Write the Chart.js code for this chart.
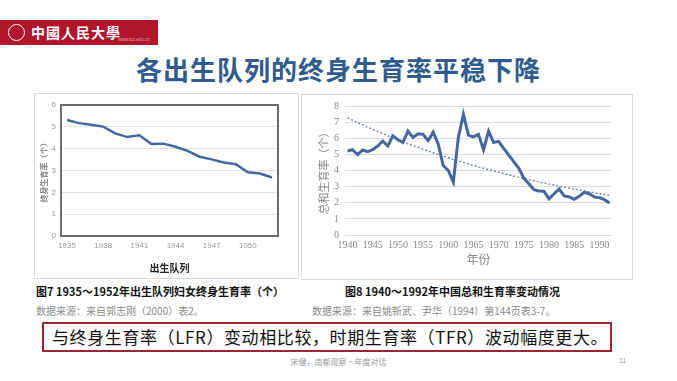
<!DOCTYPE html>
<html>
<head>
<meta charset="utf-8">
<script src="https://cdn.jsdelivr.net/npm/chart.js@4/dist/chart.umd.min.js"></script>
<style>
  body { margin: 0; width: 677px; height: 381px; background: #fff; position: relative; overflow: hidden;
         font-family: "Noto Sans CJK SC", sans-serif; }
  .abs { position: absolute; white-space: nowrap; }
  #bar { left: 0; top: 20px; width: 158px; height: 25px; background: #B0152B; }
  #emblem { left: 8px; top: 24px; width: 15px; height: 15px; border: 1.5px solid #fff; border-radius: 50%; }
  #logo { left: 31px; top: 22px; color: #fff; font: bold 14px "Noto Sans CJK TC"; letter-spacing: 1px; }
  #url { left: 118px; top: 37px; color: #e9a0aa; font: 4.5px "Liberation Sans"; }
  #title { left: 0; width: 677px; top: 50px; text-align: center; color: #2F5B8E; font: bold 26px "Noto Sans CJK SC"; letter-spacing: 1px; }
  .box { border: 1px solid #d9d9d9; background: #fff; }
  .cap { font: bold 11px "Noto Sans CJK SC"; color: #111; }
  .src { font: 10px "Noto Sans CJK SC"; color: #8a8a8a; }
  #note { left: 42px; top: 322px; width: 566px; height: 26px; border: 2px solid #9E2633; }
  #noteText { left: 52px; top: 324px; font: 17px "Noto Sans CJK SC"; color: #111; letter-spacing: 0.6px; }
  #footer { left: 0; width: 677px; top: 356px; text-align: center; font: 8px "Noto Sans CJK SC"; color: #9a9a9a; }
  #page { left: 619px; top: 357px; font: 7px "Liberation Sans"; color: #9a9a9a; }
</style>
</head>
<body>
<div class="abs" id="bar"></div>
<div class="abs" id="emblem"></div>
<div class="abs" id="logo">中國人民大學</div>
<div class="abs" id="url">www.ruc.edu.cn</div>
<div class="abs" id="title">各出生队列的终身生育率平稳下降</div>

<div class="abs box" style="left:34px;top:93px;width:263px;height:184px;"></div>
<div class="abs box" style="left:301px;top:94px;width:330px;height:184px;"></div>
<canvas id="lfrChart" class="abs" width="264" height="185" style="left:34px;top:93px;width:264px;height:185px;"></canvas>
<canvas id="tfrChart" class="abs" width="330" height="184" style="left:301px;top:94px;width:330px;height:184px;"></canvas>

<div class="abs cap" style="left:36px;top:283px;">图7 1935～1952年出生队列妇女终身生育率（个）</div>
<div class="abs cap" style="left:345px;top:283px;">图8 1940～1992年中国总和生育率变动情况</div>
<div class="abs src" style="left:36px;top:303px;">数据来源：来自郭志刚（2000）表2。</div>
<div class="abs src" style="left:312px;top:303px;">数据来源：来自姚新武、尹华（1994）第144页表3-7。</div>

<div class="abs" id="note"></div>
<div class="abs" id="noteText">与终身生育率（LFR）变动相比较，时期生育率（TFR）波动幅度更大。</div>
<div class="abs" id="footer">宋健，南都观察·年度对话</div>
<div class="abs" id="page">11</div>

<script>
// 图7：出生队列妇女终身生育率
const cohortYears = ['1935','1936','1937','1938','1939','1940','1941','1942','1943',
  '1944','1945','1946','1947','1948','1949','1950','1951','1952'];
const lfrValues = [5.31, 5.17, 5.10, 5.01, 4.70, 4.53, 4.61, 4.21, 4.23,
  4.09, 3.90, 3.63, 3.51, 3.37, 3.29, 2.92, 2.86, 2.68];
const lfrTicks = ['1935','1938','1941','1944','1947','1950'];

// 图8：总和生育率 1940-1992
const tfrYears = [];
for (let y = 1940; y <= 1992; y++) tfrYears.push(String(y));
const tfrValues = [5.21, 5.29, 4.98, 5.27, 5.17, 5.29, 5.52, 5.83, 5.52, 6.15,
  5.91, 5.74, 6.44, 6.05, 6.28, 6.24, 5.85, 6.38, 5.64, 4.31,
  4.00, 3.28, 6.05, 7.49, 6.19, 6.08, 6.24, 5.29, 6.44, 5.74,
  5.81, 5.37, 4.96, 4.55, 4.14, 3.53, 3.18, 2.81, 2.73, 2.71,
  2.24, 2.56, 2.85, 2.42, 2.36, 2.22, 2.40, 2.65, 2.56, 2.36,
  2.32, 2.19, 1.99];
const tfrTicks = ['1940','1945','1950','1955','1960','1965','1970','1975','1980','1985','1990'];

// 指数趋势线（最小二乘拟合 ln(y)）
const n = tfrValues.length;
let sx = 0, sy = 0, sxx = 0, sxy = 0;
tfrValues.forEach((v, i) => { const l = Math.log(v); sx += i; sy += l; sxx += i * i; sxy += i * l; });
const b = (n * sxy - sx * sy) / (n * sxx - sx * sx);
const a = (sy - b * sx) / n;
const tfrTrend = tfrValues.map((v, i) => Math.exp(a + b * i));

const blue = '#44679F';

const frame = {
  id: 'frame',
  afterDraw(chart) {
    const { ctx, chartArea: c } = chart;
    ctx.save();
    ctx.strokeStyle = '#6b6b6b';
    ctx.lineWidth = 2;
    ctx.strokeRect(c.left, c.top, c.right - c.left, c.bottom - c.top);
    ctx.restore();
  }
};

new Chart(document.getElementById('lfrChart'), {
  type: 'line',
  data: {
    labels: cohortYears,
    datasets: [{ data: lfrValues, borderColor: blue, borderWidth: 2.5, pointRadius: 0, tension: 0 }]
  },
  options: {
    responsive: false, animation: false,
    layout: { padding: { top: 12, right: 20 } },
    plugins: { legend: { display: false }, tooltip: { enabled: false } },
    scales: {
      x: {
        offset: true,
        grid: { display: false, drawTicks: false },
        border: { display: false },
        ticks: {
          autoSkip: false, maxRotation: 0, color: '#999', font: { size: 8, family: 'Liberation Sans' }, padding: 5,
          callback: function (v) { const l = this.getLabelForValue(v); return lfrTicks.includes(l) ? l : ''; }
        },
        title: { display: true, text: '出生队列', color: '#222', padding: { top: 10 },
          font: { size: 10, weight: 'bold', family: 'Noto Sans CJK SC' } },
        afterFit(s) { s.height = 42; }
      },
      y: {
        min: 0, max: 6,
        grid: { color: '#e2e2e2', drawTicks: false },
        border: { display: false },
        ticks: { stepSize: 1, color: '#999', font: { size: 8, family: 'Liberation Sans' }, padding: 5 },
        title: { display: true, text: '终身生育率（个）', color: '#888', padding: { top: 5 },
          font: { size: 8, weight: 'bold', family: 'Noto Sans CJK SC' } },
        afterFit(s) { s.width = 27; }
      }
    }
  },
  plugins: [frame]
});

new Chart(document.getElementById('tfrChart'), {
  type: 'line',
  data: {
    labels: tfrYears,
    datasets: [
      { data: tfrValues, borderColor: blue, borderWidth: 3, pointRadius: 0, tension: 0 },
      { data: tfrTrend, borderColor: '#6d84ad', borderWidth: 1.4, borderDash: [2, 2], pointRadius: 0 }
    ]
  },
  options: {
    responsive: false, animation: false,
    layout: { padding: { top: 11, right: 19, bottom: 7 } },
    plugins: { legend: { display: false }, tooltip: { enabled: false } },
    scales: {
      x: {
        offset: true,
        grid: { display: false, drawTicks: false },
        border: { display: false },
        ticks: {
          autoSkip: false, maxRotation: 0, color: '#888', font: { size: 10, family: 'Liberation Serif' }, padding: 4,
          callback: function (v) { const l = this.getLabelForValue(v); return tfrTicks.includes(l) ? l : ''; }
        },
        title: { display: true, text: '年份', color: '#888', padding: { top: 0 },
          font: { size: 12, family: 'Noto Sans CJK SC' } },
        afterFit(s) { s.height = 36; }
      },
      y: {
        min: 0, max: 8,
        grid: { color: '#dcdcdc', drawTicks: false },
        border: { display: false },
        ticks: { stepSize: 1, color: '#888', font: { size: 10, family: 'Liberation Serif' }, padding: 6 },
        title: { display: true, text: '总和生育率（个）', color: '#888', padding: { top: 16 },
          font: { size: 11, family: 'Noto Sans CJK SC' } },
        afterFit(s) { s.width = 44; }
      }
    }
  }
});
</script>
</body>
</html>
